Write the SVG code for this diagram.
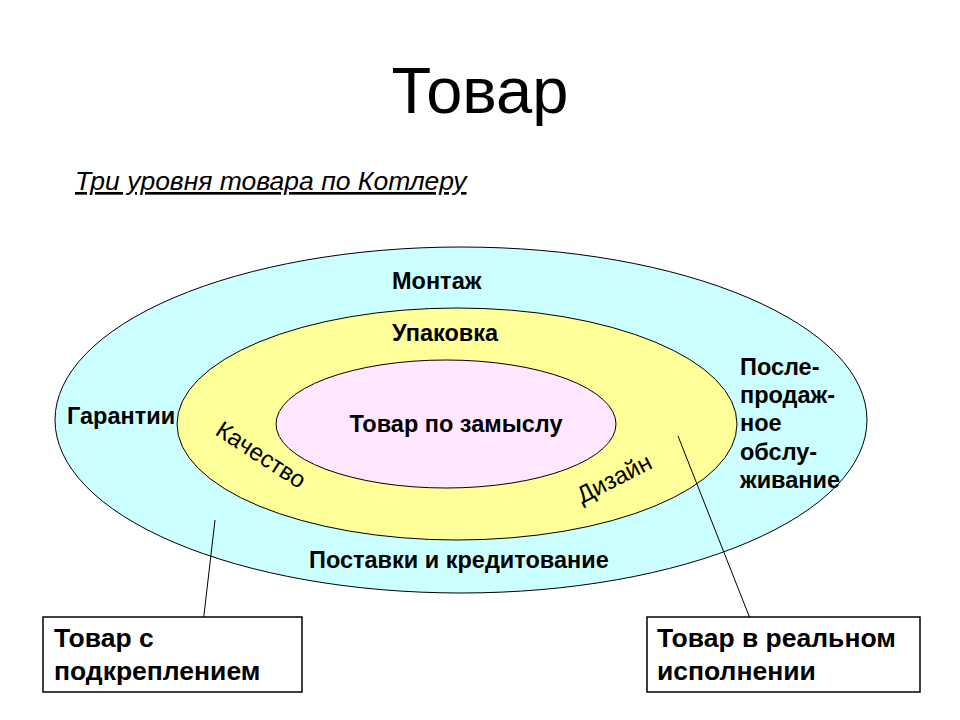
<svg xmlns="http://www.w3.org/2000/svg" width="960" height="720" viewBox="0 0 960 720">
<style>
.lbl{font-family:"Liberation Sans",Arial,sans-serif;font-weight:bold;font-size:23.5px;fill:#000}
.box{fill:#fff;stroke:#000;stroke-width:1.5}
.big{font-family:"Liberation Sans",Arial,sans-serif;font-weight:bold;font-size:26.5px;fill:#000}
.ell{stroke:#000;stroke-width:1}
.conn{stroke:#000;stroke-width:1;fill:none}
.rot{font-family:"Liberation Sans",Arial,sans-serif;font-size:24px;fill:#000}
</style>
<rect width="960" height="720" fill="#fff"/>
<text x="480" y="113" text-anchor="middle" font-family="Liberation Sans,Arial,sans-serif" font-size="65">Товар</text>
<text x="75" y="190" font-family="Liberation Sans,Arial,sans-serif" font-size="26.5" font-style="italic" text-decoration="underline">Три уровня товара по Котлеру</text>
<g id="outer">
<ellipse class="ell" cx="461" cy="420" rx="406" ry="173" fill="#CCFFFF"/>
<text class="lbl" x="392" y="289">Монтаж</text>
<text class="lbl" x="67" y="424">Гарантии</text>
<text class="lbl" x="309" y="568">Поставки и кредитование</text>
<text class="lbl" x="740" y="375">После-</text>
<text class="lbl" x="740" y="403">продаж-</text>
<text class="lbl" x="740" y="431">ное</text>
<text class="lbl" x="740" y="460">обслу-</text>
<text class="lbl" x="740" y="488">живание</text>
</g>
<g id="middle">
<ellipse class="ell" cx="457" cy="424" rx="280" ry="116" fill="#FFFF99"/>
<text class="lbl" x="392" y="341">Упаковка</text>
<text class="rot" transform="translate(214,434) rotate(33)">Качество</text>
<text class="rot" transform="translate(582,504) rotate(-27)">Дизайн</text>
</g>
<g id="inner">
<ellipse class="ell" cx="446" cy="424" rx="170" ry="64" fill="#FFE8FF"/>
<text class="lbl" x="456" y="432" text-anchor="middle">Товар по замыслу</text>
</g>
<g id="connectors">
<line class="conn" x1="215" y1="520" x2="202" y2="632"/>
<line class="conn" x1="678" y1="436" x2="753" y2="626"/>
</g>
<g id="box-left">
<rect class="box" x="43" y="617" width="259" height="75"/>
<text class="big" x="54" y="647">Товар с</text>
<text class="big" x="54" y="680">подкреплением</text>
</g>
<g id="box-right">
<rect class="box" x="647" y="617" width="273" height="75"/>
<text class="big" x="657" y="647">Товар в реальном</text>
<text class="big" x="657" y="680">исполнении</text>
</g>
</svg>
